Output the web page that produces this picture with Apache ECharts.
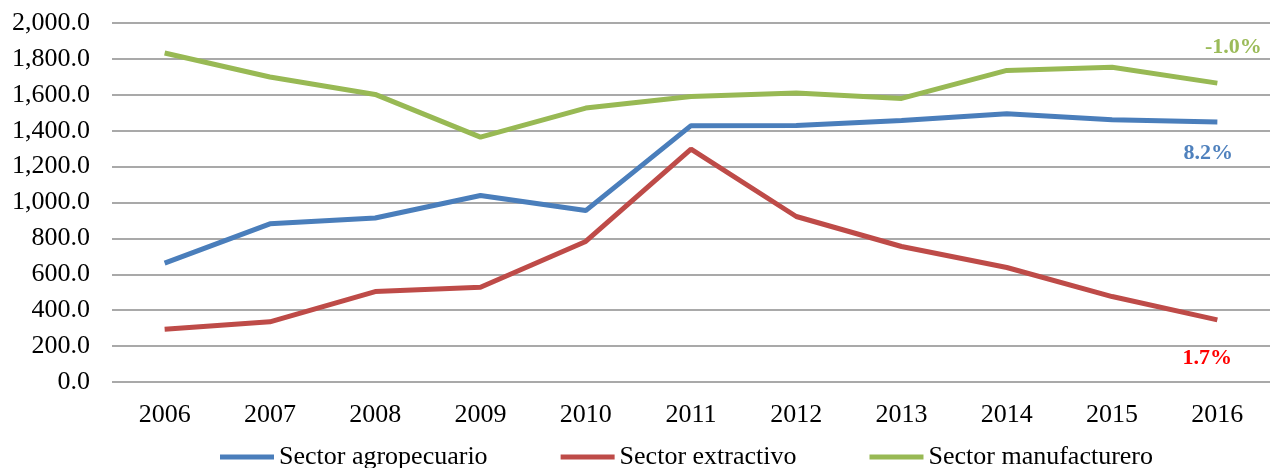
<!DOCTYPE html>
<html><head><meta charset="utf-8">
<script src="https://cdn.jsdelivr.net/npm/echarts@6/dist/echarts.min.js"></script>
<style>html,body{margin:0;padding:0;background:#fff}#c{width:1270px;height:468px}</style>
</head><body><div id="c"></div>
<script>
const years = ['2006','2007','2008','2009','2010','2011','2012','2013','2014','2015','2016'];
const agropecuario = [662, 881, 914, 1039, 955, 1428, 1429, 1457, 1494, 1461, 1448];
const extractivo = [294, 335, 504, 528, 783, 1297, 922, 755, 638, 476, 346];
const manufacturero = [1833, 1699, 1602, 1364, 1526, 1591, 1610, 1580, 1736, 1753, 1665];
const seriesNames = ['Sector agropecuario', 'Sector extractivo', 'Sector manufacturero'];
const endLabels = ['8.2%', '1.7%', '-1.0%'];

const font = '"Liberation Serif", "Times New Roman", serif';
const colors = ['#4a7ebb', '#be4b48', '#98b954'];
const labelColors = ['#4f81bd', '#ff0000', '#9bbb59'];
const labelPos = [[-9, 31], [-10, 38], [16, -36]];

function withEndLabel(arr, i) {
  return arr.map((v, k) => k === arr.length - 1 ? {
    value: v,
    label: {show: true, formatter: endLabels[i], color: labelColors[i],
      fontFamily: font, fontSize: 22, fontWeight: 'bold',
      position: labelPos[i], align: 'center', verticalAlign: 'middle'}
  } : v);
}

function lineSeries(i, arr) {
  return {name: seriesNames[i], type: 'line', data: withEndLabel(arr, i),
    symbol: 'circle', symbolSize: 0, showSymbol: true,
    lineStyle: {width: 5}, label: {show: false}};
}

const chart = echarts.init(document.getElementById('c'), null, {renderer: 'canvas'});
chart.setOption({
  animation: false,
  color: colors,
  grid: {left: 112, right: 0, top: 23, bottom: 86},
  legend: {
    bottom: -7, left: 215,
    icon: 'rect', itemWidth: 54, itemHeight: 5, itemGap: 73,
    textStyle: {fontFamily: font, fontSize: 26, color: '#000'},
    data: seriesNames
  },
  xAxis: {
    type: 'category', data: years, boundaryGap: true,
    axisLine: {show: false}, axisTick: {show: false},
    axisLabel: {fontFamily: font, fontSize: 26, color: '#000', margin: 20}
  },
  yAxis: {
    type: 'value', min: 0, max: 2000, interval: 200,
    axisLine: {show: false}, axisTick: {show: false},
    splitLine: {lineStyle: {color: '#8c8c8c', width: 1.5}},
    axisLabel: {fontFamily: font, fontSize: 26, color: '#000', margin: 22,
      formatter: v => v.toLocaleString('en-US', {minimumFractionDigits: 1, maximumFractionDigits: 1})}
  },
  series: [
    lineSeries(0, agropecuario),
    lineSeries(1, extractivo),
    lineSeries(2, manufacturero)
  ]
});
</script></body></html>
